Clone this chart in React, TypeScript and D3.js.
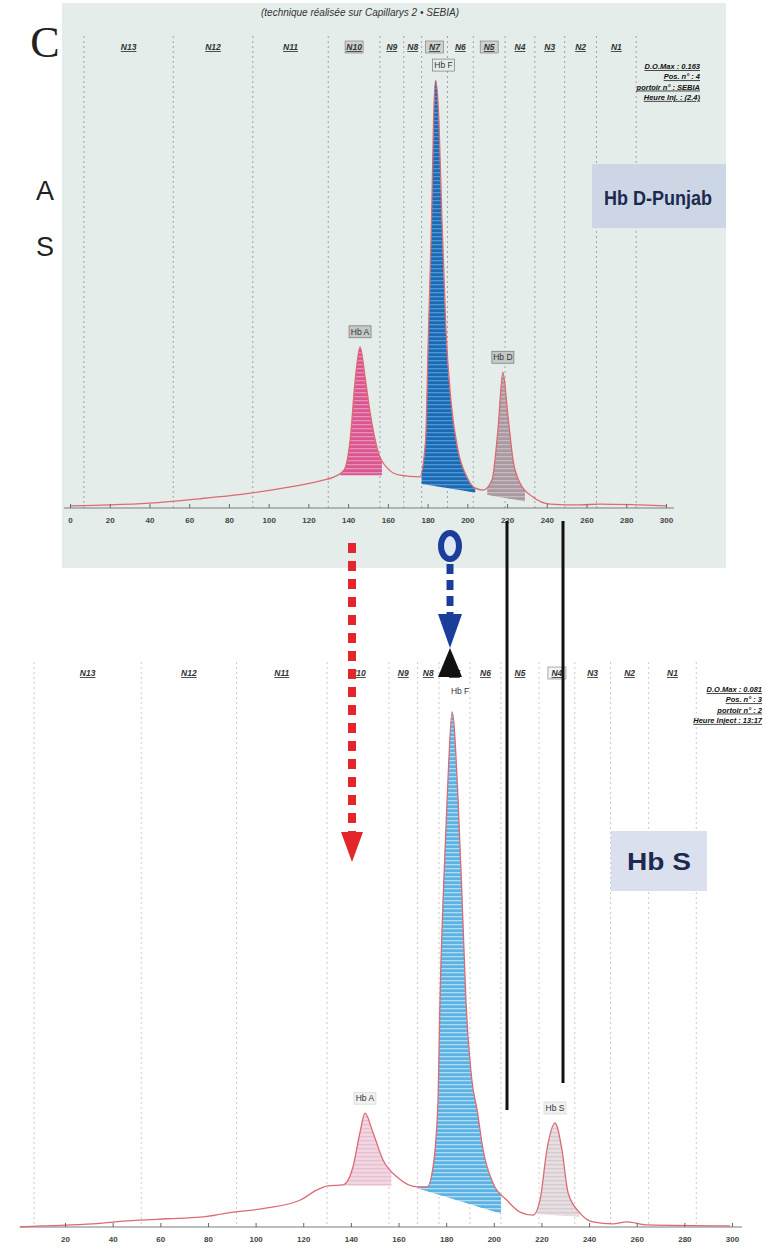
import React, { useEffect, useRef } from 'react';
import * as d3 from 'd3';

// zone boundaries (migration units) shared by both electrophoregrams
const segmentBounds = [7, 52, 92, 130, 156, 168, 177, 190, 203, 219, 234, 249, 265, 285];
const segmentLabels = ['N13', 'N12', 'N11', 'N10', 'N9', 'N8', 'N7', 'N6', 'N5', 'N4', 'N3', 'N2', 'N1'];
const topBoxed = ['N10', 'N7', 'N5'];
const bottomBoxed = ['N4'];

const topTicks = [0, 20, 40, 60, 80, 100, 120, 140, 160, 180, 200, 220, 240, 260, 280, 300];
const bottomTicks = [20, 40, 60, 80, 100, 120, 140, 160, 180, 200, 220, 240, 260, 280, 300];

// [migration, relative absorbance]
const topTrace: [number, number][] = [
  [0, 0.5], [20, 0.7], [40, 1.1], [65, 2.1], [91, 3.4], [111, 4.8], [126, 6.2], [133, 7.1],
  [138, 8.7], [141, 15.5], [143.5, 29], [146, 36.8], [148.5, 30], [151, 22], [155, 13],
  [160, 9], [166, 7.5], [176, 7.1], [179, 15.5], [180.3, 38], [182, 66], [183, 88.6],
  [184, 97.7], [185.7, 88.6], [187.2, 66], [189.2, 41], [191.7, 24.7], [195.3, 13.2],
  [199.8, 7.1], [203.8, 4.6], [208, 4.1], [212.4, 6.4], [215.4, 17.8], [217.9, 31],
  [220.4, 21.2], [223, 11], [226.5, 5.7], [233, 2.5], [241.6, 0.9], [256.7, 0.7],
  [266.7, 0.9], [286.8, 0.7], [300, 0.5],
];

const bottomTrace: [number, number][] = [
  [1, 0], [10.7, 0.2], [31.7, 0.6], [46, 1.2], [62.8, 1.6], [76.7, 1.9], [88, 2.7],
  [104.8, 3.7], [118.6, 5.2], [125.8, 7.2], [130.4, 8], [136.7, 8.2], [140.9, 11.7],
  [143.8, 18.3], [145.9, 22.1], [149.3, 18.3], [153.5, 13], [159.4, 9.7], [167.8, 7.8],
  [172, 7.8], [174.5, 11.7], [176.6, 24.7], [177.4, 44], [178.7, 63.5], [180.4, 83],
  [182.5, 100], [185, 83], [186.7, 63.5], [188.3, 44], [190.8, 28.5], [193, 22.7],
  [195.5, 15], [199.7, 8.5], [205.5, 5.2], [211, 2.9], [216.5, 2.3], [219.4, 5.2],
  [222.3, 15], [225.7, 20.2], [228.6, 15], [231.2, 6.6], [236.2, 2.7], [241.6, 1],
  [250, 0.6], [255.9, 1], [264.3, 0.4], [299.2, 0.2],
];

const topPeaks = [
  { name: 'Hb A', apex: 146, height: 36.8, from: 136, to: 157, base: [7.5, 7.5] },
  { name: 'Hb F', apex: 184, height: 97.7, from: 177, to: 204, base: [5.5, 3.5] },
  { name: 'Hb D', apex: 217.9, height: 31, from: 210, to: 229, base: [3, 1.5] },
];
const bottomPeaks = [
  { name: 'Hb A', apex: 145.9, height: 22.1, from: 137, to: 157, base: [8, 8] },
  { name: 'Hb F', apex: 182.5, height: 100, from: 168, to: 203, base: [7.5, 2.6] },
  { name: 'Hb S', apex: 225.7, height: 20.2, from: 218, to: 236, base: [2.5, 2] },
];

const topInfo = ['D.O.Max : 0.163', 'Pos. n° : 4', 'portoir n° : SEBIA', 'Heure Inj. : (2.4)'];
const bottomInfo = ['D.O.Max : 0.081', 'Pos. n° : 3', 'portoir n° : 2', 'Heure Inject : 13:17'];

const W = 766;
const H = 1249;
const NARROW = '"Liberation Sans Narrow", "Liberation Sans", Arial, sans-serif';
const SANS = '"Liberation Sans", Arial, sans-serif';

const App = () => {
  const svgRef = useRef<SVGSVGElement>(null);

  useEffect(() => {
    const svg = d3.select(svgRef.current);
    svg.selectAll('*').remove();
    const defs = svg.append('defs');

    // striped fills, like the scanned hatching
    const stripes = (id: string, base: string, stripe: string) => {
      const p = defs.append('pattern').attr('id', id)
        .attr('patternUnits', 'userSpaceOnUse').attr('width', 7).attr('height', 4);
      p.append('rect').attr('width', 7).attr('height', 4).attr('fill', base);
      p.append('rect').attr('width', 7).attr('height', 1.3).attr('fill', stripe);
    };
    stripes('topA', '#d9568f', '#ea8fb8');
    stripes('topF', '#1c6ab3', '#4d98d4');
    stripes('topD', '#a79aa1', '#cbb7c0');
    stripes('botA', '#f1d6e2', '#e6c0d1');
    stripes('botF', '#5cb2e3', '#b0dcf3');
    stripes('botS', '#e7dee2', '#d6cbd0');

    // top panel background
    svg.append('rect').attr('x', 62).attr('y', 3).attr('width', 664).attr('height', 565)
      .attr('fill', '#e5edea');

    const drawPanel = (cfg: any) => {
      const { x, y, trace, peaks, ticks, boxed, segY, gridTop, axisFrom, axisTo, prefix, top } = cfg;
      const g = svg.append('g');

      // zone dividers
      g.selectAll('line.grid').data(segmentBounds).enter().append('line')
        .attr('x1', d => x(d)).attr('x2', d => x(d))
        .attr('y1', gridTop).attr('y2', y(0))
        .attr('stroke', top ? '#8c918f' : '#bdbdbd').attr('stroke-width', 0.8)
        .attr('stroke-dasharray', '2,3');

      // zone labels
      segmentLabels.forEach((lab, i) => {
        const cx = x((segmentBounds[i] + segmentBounds[i + 1]) / 2);
        if (boxed.includes(lab)) {
          g.append('rect').attr('x', cx - 9).attr('y', segY - 9).attr('width', 18).attr('height', 12)
            .attr('fill', top ? '#cdd2d0' : '#f2f2f2').attr('stroke', '#777').attr('stroke-width', 0.6);
        }
        g.append('text').attr('x', cx).attr('y', segY)
          .attr('text-anchor', 'middle').attr('font-family', NARROW).attr('font-size', 8.5)
          .attr('font-style', 'italic').attr('font-weight', 'bold')
          .attr('text-decoration', 'underline').attr('fill', '#333').text(lab);
      });

      // peak fills, clipped to their integration window
      const fillArea = (p: any) => d3.area<[number, number]>()
        .x(d => x(d[0]))
        .y0(d => y(p.base[0] + (p.base[1] - p.base[0]) * (d[0] - p.from) / (p.to - p.from)))
        .y1(d => y(d[1]))
        .curve(d3.curveMonotoneX);
      peaks.forEach((p: any, i: number) => {
        const cid = `${prefix}clip${i}`;
        defs.append('clipPath').attr('id', cid).append('rect')
          .attr('x', x(p.from)).attr('width', x(p.to) - x(p.from))
          .attr('y', 0).attr('height', H);
        g.append('path').datum(trace)
          .attr('clip-path', `url(#${cid})`)
          .attr('fill', `url(#${prefix}${p.name.slice(-1)})`)
          .attr('d', fillArea(p));
      });

      // baseline
      g.append('line').attr('x1', axisFrom).attr('x2', axisTo)
        .attr('y1', y(0)).attr('y2', y(0)).attr('stroke', '#7d7d7d').attr('stroke-width', 1.2);

      // trace
      const line = d3.line<[number, number]>().x(d => x(d[0])).y(d => y(d[1])).curve(d3.curveMonotoneX);
      g.append('path').datum(trace).attr('fill', 'none')
        .attr('stroke', '#dd6a73').attr('stroke-width', 1.3).attr('d', line);

      // axis
      const axis = g.append('g').attr('transform', `translate(0,${y(0)})`)
        .call(d3.axisBottom(x).tickValues(ticks).tickSizeInner(-4).tickSizeOuter(0).tickPadding(9));
      axis.select('.domain').remove();
      axis.selectAll('line').attr('stroke', '#666');
      axis.selectAll('text').attr('font-family', NARROW).attr('font-size', 8)
        .attr('font-weight', 'bold').attr('fill', '#444');

      // peak labels
      peaks.forEach((p: any) => {
        const isF = p.name === 'Hb F';
        const dx = isF ? 8 : 0;
        const ly = y(p.height) - (isF && !top ? 18 : 12);
        const cx = x(p.apex) + dx;
        if (top || !isF) {
          g.append('rect').attr('x', cx - 11).attr('y', ly - 9).attr('width', 22).attr('height', 12)
            .attr('fill', top ? (isF ? '#e5edea' : '#c4c9c7') : '#f1f1f1')
            .attr('stroke', top ? '#666' : '#cfcfcf').attr('stroke-width', 0.6);
        }
        g.append('text').attr('x', cx).attr('y', ly).attr('text-anchor', 'middle')
          .attr('font-family', NARROW).attr('font-size', 8.5).attr('fill', '#333').text(p.name);
      });

      // run info
      const info = g.append('g');
      cfg.info.forEach((t: string, i: number) => {
        info.append('text').attr('x', cfg.infoX).attr('y', cfg.infoY + i * 10.3)
          .attr('text-anchor', 'end').attr('font-family', NARROW).attr('font-size', 7.5)
          .attr('font-weight', 'bold').attr('font-style', 'italic')
          .attr('text-decoration', 'underline').attr('fill', '#111').text(t);
      });
    };

    drawPanel({
      prefix: 'top', top: true,
      x: d3.scaleLinear().domain([0, 300]).range([70, 666]),
      y: d3.scaleLinear().domain([0, 100]).range([508, 70]),
      trace: topTrace, peaks: topPeaks, ticks: topTicks, boxed: topBoxed,
      segY: 50, gridTop: 36, axisFrom: 64, axisTo: 674,
      info: topInfo, infoX: 700, infoY: 69,
    });
    drawPanel({
      prefix: 'bot', top: false,
      x: d3.scaleLinear().domain([0, 300]).range([17.4, 732]),
      y: d3.scaleLinear().domain([0, 100]).range([1227, 712]),
      trace: bottomTrace, peaks: bottomPeaks, ticks: bottomTicks, boxed: bottomBoxed,
      segY: 676, gridTop: 662, axisFrom: 20, axisTo: 742,
      info: bottomInfo, infoX: 762, infoY: 692,
    });

    // title and panel letters
    svg.append('text').attr('x', 360).attr('y', 16).attr('text-anchor', 'middle')
      .attr('font-family', NARROW).attr('font-size', 10).attr('font-style', 'italic')
      .attr('fill', '#333').text('(technique réalisée sur Capillarys 2 • SEBIA)');
    svg.append('text').attr('x', 45).attr('y', 57).attr('text-anchor', 'middle')
      .attr('font-family', '"Liberation Serif", "Times New Roman", serif').attr('font-size', 44)
      .attr('fill', '#222').text('C');
    svg.append('text').attr('x', 45).attr('y', 200).attr('text-anchor', 'middle')
      .attr('font-family', SANS).attr('font-size', 27).attr('fill', '#222').text('A');
    svg.append('text').attr('x', 45).attr('y', 256).attr('text-anchor', 'middle')
      .attr('font-family', SANS).attr('font-size', 27).attr('fill', '#222').text('S');

    // variant boxes
    svg.append('rect').attr('x', 592).attr('y', 164).attr('width', 134).attr('height', 64).attr('fill', '#ccd6e5');
    svg.append('text').attr('x', 658).attr('y', 205).attr('text-anchor', 'middle')
      .attr('font-family', SANS).attr('font-weight', 'bold').attr('font-size', 21)
      .attr('textLength', 108).attr('lengthAdjust', 'spacingAndGlyphs')
      .attr('fill', '#1d2a50').text('Hb D-Punjab');
    svg.append('rect').attr('x', 611).attr('y', 831).attr('width', 96).attr('height', 60).attr('fill', '#dbe0ee');
    svg.append('text').attr('x', 659).attr('y', 870).attr('text-anchor', 'middle')
      .attr('font-family', SANS).attr('font-weight', 'bold').attr('font-size', 24)
      .attr('textLength', 64).attr('lengthAdjust', 'spacingAndGlyphs')
      .attr('fill', '#1d2a50').text('Hb S');

    // comparison annotations
    const ann = svg.append('g');
    ann.append('line').attr('x1', 507).attr('x2', 507).attr('y1', 521).attr('y2', 1110)
      .attr('stroke', '#111').attr('stroke-width', 3);
    ann.append('line').attr('x1', 563).attr('x2', 563).attr('y1', 521).attr('y2', 1083)
      .attr('stroke', '#111').attr('stroke-width', 3);

    ann.append('line').attr('x1', 352).attr('x2', 352).attr('y1', 543).attr('y2', 832)
      .attr('stroke', '#e3262b').attr('stroke-width', 8).attr('stroke-dasharray', '10,8');
    ann.append('path').attr('d', 'M341,832 L363,832 L352,862 Z').attr('fill', '#e3262b');

    ann.append('ellipse').attr('cx', 450).attr('cy', 546).attr('rx', 9).attr('ry', 13)
      .attr('fill', '#dfe8f2').attr('stroke', '#1b3e9c').attr('stroke-width', 6);
    ann.append('line').attr('x1', 450).attr('x2', 450).attr('y1', 564).attr('y2', 617)
      .attr('stroke', '#1b3e9c').attr('stroke-width', 7).attr('stroke-dasharray', '10,6');
    ann.append('path').attr('d', 'M438,614 L462,614 L450,648 Z').attr('fill', '#1b3e9c');
    ann.append('path').attr('d', 'M450,648 L462,677 L438,677 Z').attr('fill', '#111');
  }, []);

  return (
    <svg ref={svgRef} width={W} height={H}
      style={{ position: 'absolute', left: 0, top: 0, background: '#fff' }} />
  );
};

export default App;
